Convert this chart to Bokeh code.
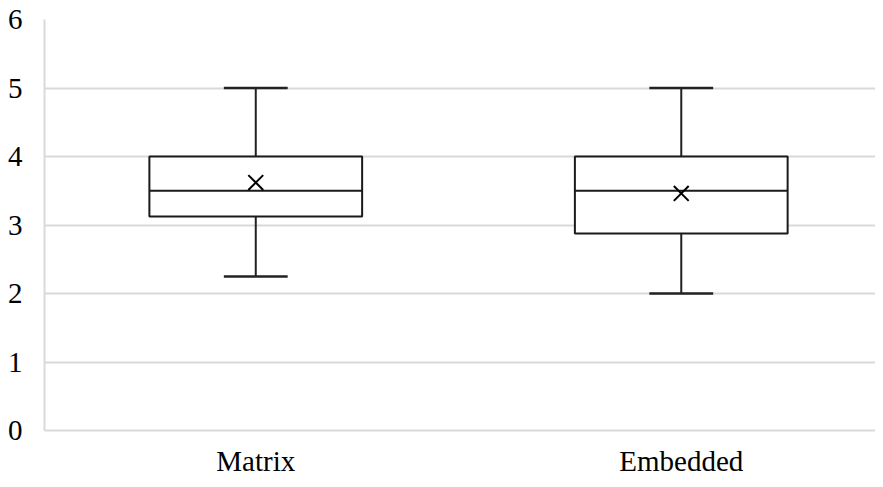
from bokeh.plotting import figure
from bokeh.models import Range1d, FixedTicker
from bokeh.embed import file_html
from bokeh.resources import INLINE

categories = ["Matrix", "Embedded"]
whisker_low = [2.25, 2.0]
q1 = [3.125, 2.875]
median = [3.5, 3.5]
q3 = [4.0, 4.0]
whisker_high = [5.0, 5.0]
mean = [3.62, 3.46]
y_ticks = [0, 1, 2, 3, 4, 5, 6]

xs = list(range(len(categories)))
box_w = 0.5
cap_w = 0.15

p = figure(width=875, height=479, output_backend="svg", toolbar_location=None,
           x_range=Range1d(-0.4965, 1.4565), y_range=Range1d(0, 6),
           min_border_left=44, min_border_right=0, min_border_top=19, min_border_bottom=40)
p.outline_line_color = None
p.background_fill_color = "white"
p.border_fill_color = "white"

font = "Liberation Serif"
for ax in (p.xaxis[0], p.yaxis[0]):
    ax.major_label_text_font = font
    ax.major_label_text_font_size = "29px"
    ax.major_label_text_line_height = 1.0
    ax.major_label_text_color = "black"
    ax.major_tick_line_color = None
    ax.minor_tick_line_color = None
    ax.axis_line_color = "#d9d9d9"
    ax.axis_line_width = 2

p.yaxis.ticker = FixedTicker(ticks=y_ticks)
p.yaxis.major_label_standoff = 16
p.xaxis.ticker = FixedTicker(ticks=xs)
p.xaxis.major_label_overrides = {i: c for i, c in enumerate(categories)}
p.xaxis.major_label_standoff = 8

p.xgrid.grid_line_color = None
p.ygrid.ticker = FixedTicker(ticks=y_ticks)
p.ygrid.grid_line_color = "#d9d9d9"
p.ygrid.grid_line_width = 2

# whiskers
p.segment(x0=xs, y0=whisker_low, x1=xs, y1=q1, line_color="#222222", line_width=2)
p.segment(x0=xs, y0=q3, x1=xs, y1=whisker_high, line_color="#222222", line_width=2)
p.segment(x0=[x - cap_w / 2 for x in xs], y0=whisker_low, x1=[x + cap_w / 2 for x in xs], y1=whisker_low,
          line_color="#222222", line_width=2.5)
p.segment(x0=[x - cap_w / 2 for x in xs], y0=whisker_high, x1=[x + cap_w / 2 for x in xs], y1=whisker_high,
          line_color="#222222", line_width=2.5)
# boxes
p.vbar(x=xs, width=box_w, bottom=q1, top=q3, fill_color="white", line_color="#1a1a1a", line_width=2)
# median
p.segment(x0=[x - box_w / 2 for x in xs], y0=median, x1=[x + box_w / 2 for x in xs], y1=median,
          line_color="#1a1a1a", line_width=2)
# mean
p.scatter(x=xs, y=mean, marker="x", size=21, line_color="black", line_width=2)

open("out.html", "w").write(file_html(p, INLINE))
